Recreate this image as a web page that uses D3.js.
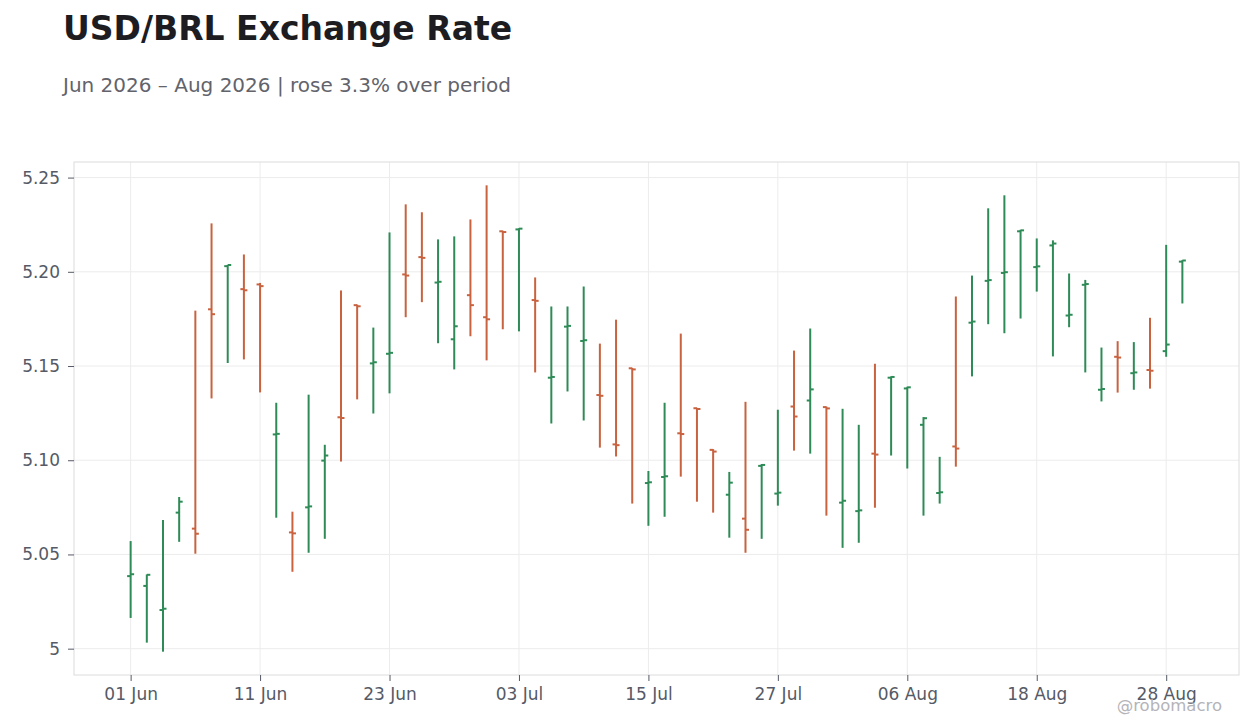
<!DOCTYPE html>
<html>
<head>
<meta charset="utf-8">
<script src="https://cdn.jsdelivr.net/npm/d3@7"></script>
<style>
  body { margin: 0; background: #fff; }
  svg { display: block; font-family: "DejaVu Sans", sans-serif; }
</style>
</head>
<body>
<div id="chart"></div>
<script>
// OHLC values, one per business day (Mon-Fri) from 01 Jun 2026 to 31 Aug 2026
const open = [5.0385, 5.0333, 5.0205, 5.0722, 5.0637, 5.1801, 5.2030, 5.1908, 5.1933, 5.1137,
  5.0617, 5.0750, 5.0998, 5.1228, 5.1823, 5.1514, 5.1565, 5.1986, 5.2078, 5.1943,
  5.1642, 5.1876, 5.1759, 5.2215, 5.2225, 5.1850, 5.1438, 5.1709, 5.1633, 5.1346,
  5.1084, 5.1488, 5.0879, 5.0911, 5.1143, 5.1276, 5.1055, 5.0817, 5.0690, 5.0970,
  5.0823, 5.1285, 5.1317, 5.1282, 5.0775, 5.0730, 5.1035, 5.1438, 5.1381, 5.1188,
  5.0826, 5.1073, 5.1730, 5.1952, 5.1994, 5.2215, 5.2025, 5.2140, 5.1768, 5.1931,
  5.1374, 5.1549, 5.1462, 5.1479, 5.1579, 5.2054];
const high = [5.0571, 5.0394, 5.0683, 5.0805, 5.1794, 5.2257, 5.2037, 5.2092, 5.1941, 5.1305,
  5.0727, 5.1348, 5.1082, 5.1901, 5.1826, 5.1704, 5.2209, 5.2358, 5.2316, 5.2172,
  5.2188, 5.2278, 5.2459, 5.2218, 5.2231, 5.1970, 5.1816, 5.1816, 5.1922, 5.1619,
  5.1746, 5.1490, 5.0943, 5.1305, 5.1672, 5.1278, 5.1059, 5.0938, 5.1310, 5.0980,
  5.1268, 5.1582, 5.1699, 5.1285, 5.1273, 5.1188, 5.1512, 5.1445, 5.1390, 5.1229,
  5.1018, 5.1869, 5.1980, 5.2337, 5.2406, 5.2223, 5.2177, 5.2167, 5.1991, 5.1957,
  5.1598, 5.1632, 5.1627, 5.1756, 5.2143, 5.2062];
const low = [5.0163, 5.0032, 4.9984, 5.0567, 5.0504, 5.1328, 5.1516, 5.1535, 5.1360, 5.0695,
  5.0408, 5.0509, 5.0583, 5.0993, 5.1323, 5.1248, 5.1355, 5.1759, 5.1839, 5.1621,
  5.1482, 5.1658, 5.1530, 5.1695, 5.1684, 5.1466, 5.1195, 5.1365, 5.1211, 5.1067,
  5.1020, 5.0770, 5.0652, 5.0700, 5.0913, 5.0780, 5.0722, 5.0589, 5.0509, 5.0583,
  5.0759, 5.1051, 5.1035, 5.0706, 5.0535, 5.0562, 5.0748, 5.1025, 5.0956, 5.0706,
  5.0770, 5.0966, 5.1445, 5.1722, 5.1674, 5.1752, 5.1895, 5.1551, 5.1706, 5.1466,
  5.1312, 5.1359, 5.1374, 5.1380, 5.1549, 5.1832];
const close = [5.0395, 5.0392, 5.0212, 5.0780, 5.0610, 5.1775, 5.2036, 5.1902, 5.1924, 5.1140,
  5.0612, 5.0755, 5.1025, 5.1224, 5.1817, 5.1520, 5.1570, 5.1980, 5.2074, 5.1947,
  5.1711, 5.1823, 5.1748, 5.2211, 5.2229, 5.1846, 5.1442, 5.1713, 5.1637, 5.1342,
  5.1080, 5.1482, 5.0883, 5.0915, 5.1139, 5.1272, 5.1046, 5.0881, 5.0631, 5.0975,
  5.0828, 5.1232, 5.1376, 5.1275, 5.0785, 5.0734, 5.1030, 5.1442, 5.1387, 5.1223,
  5.0830, 5.1062, 5.1736, 5.1956, 5.1998, 5.2220, 5.2029, 5.2150, 5.1772, 5.1935,
  5.1378, 5.1545, 5.1466, 5.1475, 5.1614, 5.2060];

const xTickLabels = ["01 Jun", "11 Jun", "23 Jun", "03 Jul", "15 Jul", "27 Jul", "06 Aug", "18 Aug", "28 Aug"];
const yTicks = [5, 5.05, 5.1, 5.15, 5.2, 5.25];
const yTickLabels = ["5", "5.05", "5.10", "5.15", "5.20", "5.25"];

const upColor = "#2e8b57";
const downColor = "#c8623f";

// weekday calendar for the period (weekends are skipped on the axis)
const dates = d3.timeDay.range(new Date(2026, 5, 1), new Date(2026, 8, 1))
  .filter(d => d.getDay() !== 0 && d.getDay() !== 6);
const fmt = d3.timeFormat("%d %b");
const data = dates.map((d, i) => ({
  date: d, label: fmt(d), o: open[i], h: high[i], l: low[i], c: close[i]
}));

const width = 1260, height = 728;
const margin = { top: 162, right: 21, bottom: 53, left: 74 };
const innerW = width - margin.left - margin.right;
const innerH = height - margin.top - margin.bottom;

const svg = d3.select("#chart").append("svg")
  .attr("width", width)
  .attr("height", height);

// title + subtitle
svg.append("text")
  .attr("x", 63).attr("y", 40)
  .attr("font-size", 33).attr("font-weight", "bold")
  .attr("fill", "#1c1c21")
  .text("USD/BRL Exchange Rate");

const change = (close[close.length - 1] / open[0] - 1) * 100;
svg.append("text")
  .attr("x", 63).attr("y", 92)
  .attr("font-size", 20)
  .attr("fill", "#62636b")
  .text(`Jun 2026 \u2013 Aug 2026 | rose ${change.toFixed(1)}% over period`);

const g = svg.append("g").attr("transform", `translate(${margin.left},${margin.top})`);

const x = d3.scaleLinear().domain([-3.5, data.length + 2.5]).range([0, innerW]);
const lo = d3.min(low), hi = d3.max(high);
const pad = (hi - lo) * 0.05;
const y = d3.scaleLinear().domain([lo - pad, hi + pad]).range([innerH, 0]);

const tickIdx = xTickLabels.map(t => data.findIndex(d => d.label === t));

// grid
g.append("g").selectAll("line.gy")
  .data(yTicks).join("line")
  .attr("x1", 0).attr("x2", innerW)
  .attr("y1", d => y(d)).attr("y2", d => y(d))
  .attr("stroke", "#ececec");
g.append("g").selectAll("line.gx")
  .data(tickIdx).join("line")
  .attr("x1", d => x(d)).attr("x2", d => x(d))
  .attr("y1", 0).attr("y2", innerH)
  .attr("stroke", "#ececec");

// frame
g.append("rect")
  .attr("width", innerW).attr("height", innerH)
  .attr("fill", "none").attr("stroke", "#dcdcdc");

// axes
const yAxis = g.append("g")
  .call(d3.axisLeft(y).tickValues(yTicks).tickFormat((d, i) => yTickLabels[i]).tickSize(6).tickPadding(8));
const xAxis = g.append("g")
  .attr("transform", `translate(0,${innerH})`)
  .call(d3.axisBottom(x).tickValues(tickIdx).tickFormat((d, i) => xTickLabels[i]).tickSize(6).tickPadding(7));
[yAxis, xAxis].forEach(a => {
  a.select(".domain").remove();
  a.selectAll(".tick line").attr("stroke", "#555a66");
  a.selectAll(".tick text")
    .attr("fill", "#555a66")
    .attr("font-size", 17)
    .attr("font-family", "DejaVu Sans, sans-serif");
});

// OHLC bars
const tk = 3.5;
const bars = g.append("g").selectAll("g.bar")
  .data(data).join("g")
  .attr("stroke", d => d.c >= d.o ? upColor : downColor)
  .attr("stroke-width", 2);
bars.append("line")
  .attr("x1", (d, i) => x(i)).attr("x2", (d, i) => x(i))
  .attr("y1", d => y(d.h)).attr("y2", d => y(d.l));
bars.append("line")
  .attr("x1", (d, i) => x(i) - tk).attr("x2", (d, i) => x(i))
  .attr("y1", d => y(d.o)).attr("y2", d => y(d.o));
bars.append("line")
  .attr("x1", (d, i) => x(i)).attr("x2", (d, i) => x(i) + tk)
  .attr("y1", d => y(d.c)).attr("y2", d => y(d.c));

// watermark
svg.append("text")
  .attr("x", 1222).attr("y", 711)
  .attr("text-anchor", "end")
  .attr("font-size", 16.5)
  .attr("fill", "#b4b4b8")
  .text("@robomacro");
</script>
</body>
</html>
